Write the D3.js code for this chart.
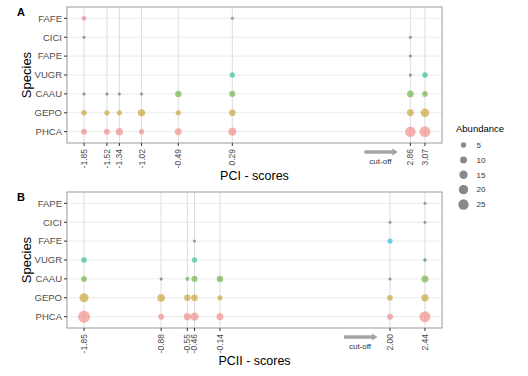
<!DOCTYPE html>
<html><head><meta charset="utf-8">
<script src="https://cdn.jsdelivr.net/npm/d3@7"></script>
<style>body{margin:0;background:#fff}svg{display:block;font-family:"Liberation Sans",Arial,sans-serif}</style>
</head><body><svg id="c" width="528" height="376"></svg>
<script>
// ---- data ----
const speciesA = ["FAFE","CICI","FAPE","VUGR","CAAU","GEPO","PHCA"];
const speciesB = ["FAPE","CICI","FAFE","VUGR","CAAU","GEPO","PHCA"];
const scoresA = [-1.85,-1.52,-1.34,-1.02,-0.49,0.29,2.86,3.07];
const scoresB = [-1.85,-0.88,-0.55,-0.46,-0.14,2.00,2.44];
const tickLabelsA = ["-1.85","-1.52","-1.34","-1.02","-0.49","0.29","2.86","3.07"];
const tickLabelsB = ["-1.85","-0.88","-0.55","-0.46","-0.14","2.00","2.44"];
// abundance per species at each score (null = absent)
const phcaA = [7,7,11,5,10,15,26,28];
const gepoA = [5.5,5,5,11,5,9,10,17];
const caauA = [1,1,1,1,8,7,9,6];
const vugrA = [null,null,null,null,null,5,1,6];
const fapeA = [null,null,null,null,null,null,1,null];
const ciciA = [1,null,null,null,null,null,1,null];
const fafeA = [4,null,null,null,null,1,null,null];
const phcaB = [35,6,11,15,10,7,29];
const gepoB = [19,13,8,9,4.5,6,11];
const caauB = [6,1,2.5,7,8,1,10];
const vugrB = [6,null,null,5,null,null,1.5];
const fafeB = [null,null,null,1,null,5,null];
const ciciB = [null,null,null,null,null,1,1];
const fapeB = [null,null,null,null,null,null,1];
const legendValues = [5,10,15,20,25];
const hue7 = ["#EE7E78","#C49A20","#5FA830","#20B890","#20B0E0","#A090E8","#E87AA8"];

const svg = d3.select("#c");
svg.append("rect").attr("width",528).attr("height",376).attr("fill","#fff");
const rScale = d3.scaleSqrt().domain([0,35]).range([0.6,6]);

function panel(cfg){
  const {top,bottom,left,right,species,scores,labels,series,title,letter,cut} = cfg;
  const ext = d3.extent(scores), pad = (ext[1]-ext[0])*0.05;
  const x = d3.scaleLinear().domain([ext[0]-pad, ext[1]+pad]).range([left,right]);
  const y = d3.scalePoint().domain(species).range([top,bottom]).padding(0.6);
  const bottomUp = species.slice().reverse();
  const color = d3.scaleOrdinal().domain(bottomUp).range(hue7);
  const g = svg.append("g");
  // grid
  g.selectAll(".hg").data(species).join("line")
    .attr("x1",left).attr("x2",right).attr("y1",d=>y(d)).attr("y2",d=>y(d))
    .attr("stroke","#ebebeb").attr("stroke-width",1);
  g.selectAll(".vg").data(scores).join("line")
    .attr("x1",d=>x(d)).attr("x2",d=>x(d)).attr("y1",top).attr("y2",bottom)
    .attr("stroke","#d4d4d4").attr("stroke-width",0.8);
  // points
  const pts = [];
  species.forEach(sp=>{
    const vals = series[sp];
    vals.forEach((v,i)=>{ if(v!=null) pts.push({sp, s:scores[i], v}); });
  });
  pts.sort((a,b)=>b.v-a.v);
  g.selectAll(".pt").data(pts).join("circle")
    .attr("cx",d=>x(d.s)).attr("cy",d=>y(d.sp)).attr("r",d=>rScale(d.v))
    .attr("fill",d=> d.v<=1.5 ? d3.interpolateRgb(color(d.sp),"#666")(0.6) : color(d.sp))
    .attr("fill-opacity",d=> d.v<=1.5 ? 0.75 : 0.6);
  // border
  g.append("rect").attr("x",left).attr("y",top).attr("width",right-left).attr("height",bottom-top)
    .attr("fill","none").attr("stroke","#999").attr("stroke-width",1);
  // y axis
  const ya = g.append("g");
  species.forEach(sp=>{
    ya.append("line").attr("x1",left-3).attr("x2",left).attr("y1",y(sp)).attr("y2",y(sp)).attr("stroke","#333");
    ya.append("text").attr("x",left-5).attr("y",y(sp)).attr("dy","0.35em").attr("text-anchor","end")
      .attr("font-size",9.5).attr("fill","#4d4d4d").text(sp);
  });
  // x axis
  scores.forEach((s,i)=>{
    g.append("line").attr("x1",x(s)).attr("x2",x(s)).attr("y1",bottom).attr("y2",bottom+3).attr("stroke","#333");
    g.append("text").attr("transform",`translate(${x(s)},${bottom+6}) rotate(-90)`)
      .attr("text-anchor","end").attr("dy","0.35em").attr("font-size",8.5).attr("fill","#4d4d4d").text(labels[i]);
  });
  // titles
  g.append("text").attr("x",(left+right)/2).attr("y",bottom+37).attr("text-anchor","middle")
    .attr("font-size",12.5).attr("fill","#000").text(title);
  g.append("text").attr("transform",`translate(31,${(top+bottom)/2}) rotate(-90)`).attr("text-anchor","middle")
    .attr("font-size",13).attr("fill","#000").text("Species");
  g.append("text").attr("x",17).attr("y",top+9).attr("font-size",11).attr("font-weight","bold").text(letter);
  // cut-off arrow
  const ax = x(cut);
  g.append("line").attr("x1",ax-46).attr("x2",ax-17).attr("y1",bottom+9).attr("y2",bottom+9)
    .attr("stroke","#a6a6a6").attr("stroke-width",3.5);
  g.append("path").attr("d",`M${ax-18},${bottom+5.5} L${ax-12.5},${bottom+9} L${ax-18},${bottom+12.5} Z`).attr("fill","#a6a6a6");
  g.append("text").attr("x",ax-30).attr("y",bottom+21).attr("text-anchor","middle")
    .attr("font-size",8).attr("fill","#333").text("cut-off");
}

panel({top:7,bottom:143,left:67,right:442,species:speciesA,scores:scoresA,labels:tickLabelsA,
  series:{PHCA:phcaA,GEPO:gepoA,CAAU:caauA,VUGR:vugrA,FAPE:fapeA,CICI:ciciA,FAFE:fafeA},
  title:"PCI - scores",letter:"A",cut:2.86});
panel({top:192,bottom:328,left:67,right:442,species:speciesB,scores:scoresB,labels:tickLabelsB,
  series:{PHCA:phcaB,GEPO:gepoB,CAAU:caauB,VUGR:vugrB,FAFE:fafeB,CICI:ciciB,FAPE:fapeB},
  title:"PCII - scores",letter:"B",cut:2.00});

// legend
const lg = svg.append("g");
lg.append("text").attr("x",456).attr("y",132).attr("font-size",9.5).attr("fill","#000").text("Abundance");
const ly = d3.scalePoint().domain(legendValues).range([145,204.5]);
legendValues.forEach(v=>{
  lg.append("circle").attr("cx",463.5).attr("cy",ly(v)).attr("r",rScale(v)).attr("fill","#555").attr("fill-opacity",0.7);
  lg.append("text").attr("x",476.5).attr("y",ly(v)).attr("dy","0.35em").attr("font-size",8).attr("fill","#333").text(v);
});
</script></body></html>
